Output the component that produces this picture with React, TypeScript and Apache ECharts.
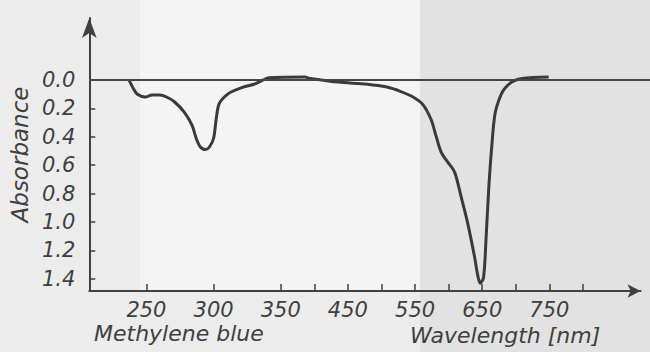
import React, { useEffect, useRef } from "react";
import * as echarts from "echarts";

const wavelengthNm = [
  237, 240, 243, 249, 254, 260, 265, 271, 278, 284, 287, 290, 294, 297, 300,
  302, 304, 308, 313, 322, 330, 337, 341, 386, 394, 435, 479, 508, 528, 547,
  562, 574, 581, 589, 599, 609, 618, 628, 638, 644, 647, 652, 656, 660, 665,
  669, 675, 682, 694, 709, 749,
];
const absorbance = [
  0, 0.056, 0.099, 0.12, 0.106, 0.106, 0.12, 0.155, 0.225, 0.32, 0.41, 0.47,
  0.49, 0.47, 0.41, 0.27, 0.17, 0.12, 0.085, 0.05, 0.03, 0, -0.015, -0.02,
  -0.01, 0.015, 0.03, 0.05, 0.08, 0.12, 0.175, 0.28, 0.39, 0.51, 0.58, 0.65,
  0.81, 1.0, 1.23, 1.39, 1.43, 1.39, 1.09, 0.74, 0.42, 0.24, 0.14, 0.07, 0.015,
  -0.01, -0.02,
];

// Axis ticks / labels
const xLabelNm = [250, 300, 350, 450, 550, 650, 750];
const xTickNm = [250, 300, 350, 400, 450, 500, 550, 600, 650, 700, 750, 800];
const yTickValues = [0, 0.2, 0.4, 0.6, 0.8, 1.0, 1.2, 1.4];

const yAxisTitle = "Absorbance";
const xAxisTitle = "Wavelength [nm]";
const sampleName = "Methylene blue";

// The printed axis changes scale at 350 nm: 50 nm per division below, 100 nm per division above
const nmToAxis = (nm: number) => (nm <= 350 ? (nm - 250) / 50 : 2 + (nm - 350) / 100);

const FONT = '"DejaVu Sans", sans-serif';
const INK = "#3a3a3a";
const TEXT = "#3f3f3f";

export default function App() {
  const ref = useRef<HTMLDivElement>(null);

  useEffect(() => {
    if (!ref.current) return;
    const chart = echarts.init(ref.current, undefined, { renderer: "svg" });

    const data = wavelengthNm.map((nm, i) => [nmToAxis(nm), absorbance[i]]);
    const labelMap: Record<string, string> = {};
    xLabelNm.forEach((nm) => {
      labelMap[nmToAxis(nm).toFixed(3)] = String(nm);
    });

    const axisLineStyle = { color: "#404040", width: 2 };
    const labelStyle = {
      fontFamily: FONT,
      fontStyle: "italic" as const,
      fontSize: 21,
      color: TEXT,
    };

    chart.setOption({
      animation: false,
      backgroundColor: "#ececec",
      grid: { left: 81, right: 9.5, top: 18, bottom: 61, containLabel: false },
      xAxis: {
        type: "value",
        min: -0.851,
        max: 7.357,
        axisLine: {
          show: true,
          onZero: false,
          symbol: ["none", "arrow"],
          symbolSize: [10, 13],
          lineStyle: axisLineStyle,
        },
        axisTick: {
          show: true,
          inside: true,
          length: 7,
          customValues: xTickNm.map(nmToAxis),
          lineStyle: { color: "#404040", width: 1.5 },
        },
        axisLabel: {
          ...labelStyle,
          margin: 8,
          customValues: xLabelNm.map(nmToAxis),
          formatter: (v: number) => labelMap[v.toFixed(3)] ?? "",
        },
        splitLine: { show: false },
      },
      yAxis: {
        type: "value",
        inverse: true,
        min: -0.436,
        max: 1.485,
        axisLine: {
          show: true,
          onZero: false,
          symbol: ["none", "arrow"],
          symbolSize: [11, 20],
          lineStyle: axisLineStyle,
        },
        axisTick: {
          show: true,
          inside: true,
          length: 6,
          customValues: yTickValues,
          lineStyle: { color: "#404040", width: 1.5 },
        },
        axisLabel: {
          ...labelStyle,
          margin: 14,
          customValues: yTickValues,
          formatter: (v: number) => v.toFixed(1),
        },
        splitLine: { show: false },
        name: yAxisTitle,
        nameLocation: "middle",
        nameRotate: 90,
        nameGap: 52,
        nameTextStyle: { ...labelStyle, fontSize: 23 },
      },
      graphic: [
        { type: "rect", z: -10, silent: true, shape: { x: 140, y: 0, width: 280, height: 290 }, style: { fill: "#f4f4f4" } },
        { type: "rect", z: -10, silent: true, shape: { x: 420, y: 0, width: 230, height: 352 }, style: { fill: "#e2e2e2" } },
        { type: "line", z: 1, silent: true, shape: { x1: 640, y1: 80, x2: 650, y2: 80 }, style: { stroke: "#454545", lineWidth: 2 } },
        {
          type: "text",
          left: 94,
          top: 322,
          style: { text: sampleName, font: `italic 22px ${FONT}`, fill: TEXT },
        },
        {
          type: "text",
          left: 410,
          top: 324,
          style: { text: xAxisTitle, font: `italic 22px ${FONT}`, fill: TEXT },
        },
      ],
      series: [
        {
          type: "line",
          data,
          smooth: 0.3,
          showSymbol: false,
          lineStyle: { color: INK, width: 3 },
          markLine: {
            silent: true,
            symbol: "none",
            label: { show: false },
            lineStyle: { color: "#454545", width: 2, type: "solid" },
            data: [{ yAxis: 0 }],
          },
        },
      ],
    });

    return () => chart.dispose();
  }, []);

  return (
    <div
      ref={ref}
      style={{ position: "fixed", left: 0, top: 0, width: 650, height: 352 }}
    />
  );
}
